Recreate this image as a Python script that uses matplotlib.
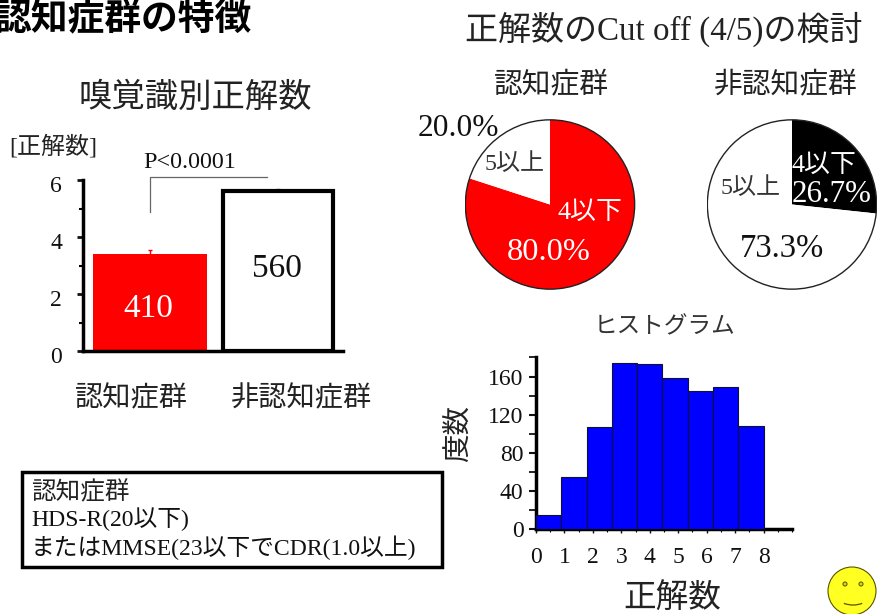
import numpy as np
import matplotlib
matplotlib.use("Agg")
import matplotlib.pyplot as plt
from matplotlib.patches import Circle, Rectangle, Arc
from matplotlib.transforms import ScaledTranslation

plt.rcParams['font.family'] = ['Liberation Serif', 'Noto Sans CJK JP']

W, H = 877, 614

groups = ['認知症群', '非認知症群']
bar_values = [3.4, 5.6]
bar_errors = [0.15, 0.1]
bar_counts = ['410', '560']
bar_ticks = [0, 2, 4, 6]

pie_demented = [80.0, 20.0]
pie_control = [26.7, 73.3]

hist_counts = [15, 55, 107, 174, 173, 158, 145, 149, 108]
hist_yticks = [0, 40, 80, 120, 160]
hist_xticks = [0, 1, 2, 3, 4, 5, 6, 7, 8]


def axes_px(left, top, right, bottom):
    # axes placed by pixel box, y measured from the top of the figure
    return fig.add_axes([left / W, 1 - bottom / H, (right - left) / W, (bottom - top) / H])


fig = plt.figure(figsize=(W / 100, H / 100), dpi=100, facecolor='white')

# full figure layer for the free text
bg = fig.add_axes([0, 0, 1, 1], zorder=10)
bg.set_xlim(0, W)
bg.set_ylim(H, 0)
bg.axis('off')
bg.patch.set_alpha(0)


def label(x, y, s, size, color='#111111', **kw):
    kw.setdefault('ha', 'center')
    bg.text(x, y, s, fontsize=size, color=color, va='center', **kw)


# bar chart
ax = axes_px(83, 180, 343, 351)
ax.set_xlim(83, 343)
ax.set_ylim(0, 6)
centers = [150, 278]
widths = [114, 110]
ax.bar(centers[0], bar_values[0], width=widths[0], color='#ff0000', edgecolor='none', zorder=3)
ax.bar(centers[1], bar_values[1], width=widths[1], color='white', edgecolor='black', linewidth=3, zorder=3)
ax.errorbar(centers[0], bar_values[0], yerr=bar_errors[0], color='#ff0000', capsize=1.5, lw=1, zorder=2)
ax.errorbar(centers[1], bar_values[1], yerr=bar_errors[1], color='#555555', capsize=1.5, lw=1, zorder=2)
for s in ['top', 'right']:
    ax.spines[s].set_visible(False)
ax.spines['left'].set_linewidth(2.5)
ax.spines['bottom'].set_linewidth(2.5)
ax.set_xticks([])
ax.set_yticks(bar_ticks)
ax.set_yticks(np.arange(0, 6.01, 1), minor=True)
ax.tick_params(axis='y', which='major', length=4, width=2, labelsize=17, pad=11, colors='#111111')
ax.tick_params(axis='y', which='minor', length=3, width=1.5)
for s in ax.spines.values():
    s.set_zorder(5)
# tick numbers sit a little below their ticks
for t in ax.get_yticklabels():
    t.set_transform(t.get_transform() + ScaledTranslation(0, -4 / 100, fig.dpi_scale_trans))

label(148, 309, bar_counts[0], 24, color='white')
label(277, 269, bar_counts[1], 24)
label(131, 399, groups[0], 20.3, color='#222222')
label(302, 399, groups[1], 20.3, color='#222222')
label(190, 162, 'P<0.0001', 17.3)
label(53, 147, '[正解数]', 17.3, color='#222222')
label(195, 98, '嗅覚識別正解数', 24, color='#222222')
bg.plot([150, 150, 267], [212, 177, 177], color='#666666', lw=0.9)

# titles
bg.text(-5, 21, '認知症群の特徴', fontsize=26.5, fontweight='bold', color='black', va='center', ha='left')
label(664, 29, '正解数のCut off (4/5)の検討', 23.8, color='#222222')
label(551, 86, groups[0], 20.7, color='#222222')
label(786, 86, groups[1], 20.7, color='#222222')

# pies, wedges without edges and one outline round each
R = 85.5
ax1 = axes_px(550 - R, 204.5 - R, 550 + R, 204.5 + R)
ax1.pie(pie_demented, colors=['#ff0000', 'white'], startangle=90, counterclock=False, radius=1,
        wedgeprops={'edgecolor': 'none'})
ax1.add_patch(Circle((0, 0), 1, fill=False, edgecolor='#222222', linewidth=1))
ax1.set_xlim(-1.01, 1.01)
ax1.set_ylim(-1.01, 1.01)
ax2 = axes_px(792 - R, 204.5 - R, 792 + R, 204.5 + R)
ax2.pie(pie_control, colors=['black', 'white'], startangle=90, counterclock=False, radius=1,
        wedgeprops={'edgecolor': 'none'})
ax2.add_patch(Circle((0, 0), 1, fill=False, edgecolor='#222222', linewidth=1))
ax2.set_xlim(-1.01, 1.01)
ax2.set_ylim(-1.01, 1.01)

label(458, 128, f'{pie_demented[1]:.1f}%', 22.6)
label(515, 164, '5以上', 17.3, color='#333333')
label(590, 213, '4以下', 18.7, color='white')
label(549, 253, f'{pie_demented[0]:.1f}%', 23.3, color='white')
label(751, 188, '5以上', 17.3, color='#333333')
label(824, 166, '4以下', 18.7, color='white')
label(832, 195, f'{pie_control[0]:.1f}%', 22.3, color='white')
label(782, 249, f'{pie_control[1]:.1f}%', 23.5)

# histogram
label(665, 328, 'ヒストグラム', 17, color='#333333')
ax3 = axes_px(536, 357, 792, 529)
ax3.set_xlim(0, 9)
ax3.set_ylim(0, 180.5)
edges = np.linspace(0, 8, len(hist_counts) + 1)
ax3.bar(edges[:-1], hist_counts, width=np.diff(edges), align='edge', color='#0000ff',
        edgecolor='#111133', linewidth=0.8, zorder=3)
for s in ['top', 'right']:
    ax3.spines[s].set_visible(False)
ax3.spines['left'].set_linewidth(2.5)
ax3.spines['bottom'].set_linewidth(2.5)
ax3.set_yticks(hist_yticks)
ax3.set_yticks(np.arange(0, 181, 20), minor=True)
ax3.set_xticks(hist_xticks)
ax3.set_xticks(np.arange(0, 9.01, 0.5), minor=True)
ax3.tick_params(axis='y', which='major', length=5, width=1.5, labelsize=17, pad=4, colors='#111111')
ax3.tick_params(axis='y', which='minor', length=5, width=1.2)
ax3.tick_params(axis='x', which='major', length=3, width=1, labelsize=17, pad=10, colors='#111111')
ax3.tick_params(axis='x', which='minor', length=2, width=0.8)
label(459, 433, '度数', 20.5, color='#222222', rotation=90)
label(672, 598, '正解数', 23.5, color='#222222')

# definition box
bg.add_patch(Rectangle((22, 472), 420, 95, facecolor='white', edgecolor='black', linewidth=2.5))
bg.text(31, 492, '認知症群', fontsize=17.7, color='#222222', va='center', ha='left')
bg.text(31, 519, 'HDS-R(20以下)', fontsize=17.1, color='#111111', va='center', ha='left')
bg.text(31, 548, 'またはMMSE(23以下でCDR(1.0以上)', fontsize=17.1, color='#111111', va='center', ha='left')

# smiley
bg.add_patch(Circle((852, 591), 24, facecolor='#ffff22', edgecolor='#555500', linewidth=0.8))
for ex in [845, 861]:
    bg.add_patch(Circle((ex, 584), 2, facecolor='#ddcc22', edgecolor='#666600', linewidth=0.8))
bg.add_patch(Arc((853, 598), 28, 14, theta1=30, theta2=150, color='#555500', linewidth=0.9))

fig.savefig('out.png', dpi=100)
